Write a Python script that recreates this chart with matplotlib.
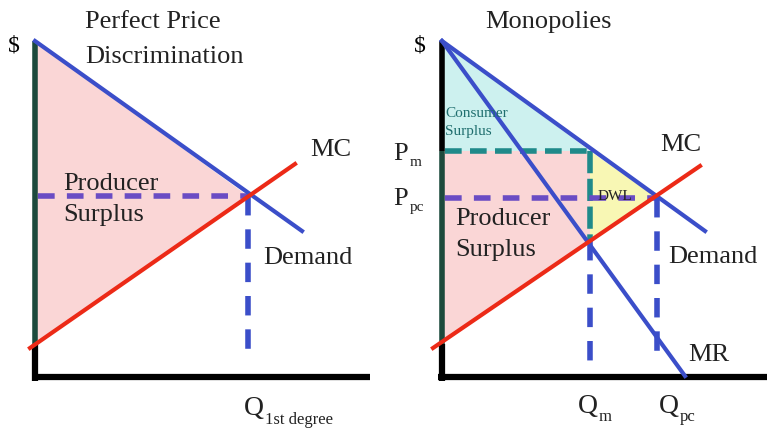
import matplotlib
matplotlib.use("Agg")
import matplotlib.pyplot as plt
from matplotlib.patches import Polygon

# ---- data (pixel-space diagram coordinates, y downwards) ----
# Left panel: perfect price discrimination
L_demand_x = [35, 302]
L_demand_y = [42, 232]
L_mc_x = [30, 295]
L_mc_y = [349, 165]
L_eq = (248, 197)
L_ps_x = [35, 248, 35]
L_ps_y = [42, 197, 345]

# Right panel: monopoly
R_demand_x = [442, 705]
R_demand_y = [42, 232]
R_mr_x = [442, 685]
R_mr_y = [42, 377]
R_mc_x = [433, 700]
R_mc_y = [349, 167]
R_qm, R_pm = 590, 152
R_qpc, R_ppc = 657, 199
R_mc_at_qm = 242
R_cs_x = [442, 590, 442]
R_cs_y = [42, 152, 152]
R_ps_x = [442, 590, 590, 442]
R_ps_y = [152, 152, 242, 345]
R_dwl_x = [590, 657, 590]
R_dwl_y = [152, 199, 242]

BLUE = "#3b4ec9"
RED = "#ec2a17"
PURPLE = "#6a4cc4"
TEAL = "#1f8a8a"
DKGREEN = "#1c4a3c"
PINK = "#fad6d6"
CYAN = "#cdf1ef"
YELLOW = "#f8f7b4"
TXT = "#222222"

fig = plt.figure(figsize=(7.67, 4.31), dpi=100)
ax = fig.add_axes([0, 0, 1, 1])
ax.set_xlim(0, 767)
ax.set_ylim(431, 0)
ax.axis("off")

serif = ["Liberation Serif", "DejaVu Serif"]

# ---------- Left panel ----------
ax.add_patch(Polygon(list(zip(L_ps_x, L_ps_y)), closed=True, fc=PINK, ec="none", zorder=1))
ax.plot([35, 35], [345, 382], color="black", lw=4.5, solid_capstyle="butt", zorder=3)
ax.plot([35, 35], [42, 345], color=DKGREEN, lw=4, solid_capstyle="butt", zorder=3)
ax.plot([33, 370], [378, 378], color="black", lw=4.5, solid_capstyle="butt", zorder=3)
ax.plot([38, L_eq[0]], [L_eq[1], L_eq[1]], color=PURPLE, lw=4, dashes=(3, 2.2), zorder=4)
ax.plot([L_eq[0], L_eq[0]], [L_eq[1], 363], color=BLUE, lw=4, dashes=(3.5, 2.5), zorder=4)
ax.plot(L_demand_x, L_demand_y, color=BLUE, lw=3, zorder=5)
ax.plot(L_mc_x, L_mc_y, color=RED, lw=3, zorder=5)

ax.text(14, 46, "$", fontsize=17, family=serif, ha="center", va="center")
ax.text(85, 22, "Perfect Price", fontsize=19, family=serif, ha="left", va="center", color=TXT)
ax.text(85, 57, "Discrimination", fontsize=19, family=serif, ha="left", va="center", color=TXT)
ax.text(310, 150, "MC", fontsize=19, family=serif, ha="left", va="center", color=TXT)
ax.text(63, 184, "Producer", fontsize=19, family=serif, ha="left", va="center", color=TXT)
ax.text(63, 215, "Surplus", fontsize=19, family=serif, ha="left", va="center", color=TXT)
ax.text(263, 258, "Demand", fontsize=19, family=serif, ha="left", va="center", color=TXT)
ax.text(244, 409, "Q", fontsize=20, family=serif, ha="left", va="center", color=TXT)
ax.text(265, 420, "1st degree", fontsize=12, family=serif, ha="left", va="center", color=TXT)

# ---------- Right panel ----------
ax.add_patch(Polygon(list(zip(R_cs_x, R_cs_y)), closed=True, fc=CYAN, ec="none", zorder=1))
ax.add_patch(Polygon(list(zip(R_ps_x, R_ps_y)), closed=True, fc=PINK, ec="none", zorder=1))
ax.add_patch(Polygon(list(zip(R_dwl_x, R_dwl_y)), closed=True, fc=YELLOW, ec="none", zorder=1))
ax.plot([442, 442], [345, 382], color="black", lw=4.5, solid_capstyle="butt", zorder=3)
ax.plot([442, 442], [42, 152], color="black", lw=4, solid_capstyle="butt", zorder=3)
ax.plot([442, 442], [152, 345], color=DKGREEN, lw=4, solid_capstyle="butt", zorder=3)
ax.plot([438, 767], [378, 378], color="black", lw=4.5, solid_capstyle="butt", zorder=3)
ax.plot([445, R_qm], [R_pm, R_pm], color=TEAL, lw=4, dashes=(3, 1.5), zorder=4)
ax.plot([R_qm, R_qm], [R_pm, R_mc_at_qm], color=TEAL, lw=4, dashes=(4, 1), zorder=4)
ax.plot([R_qm, R_qm], [R_mc_at_qm, 362], color=BLUE, lw=4, dashes=(3.5, 2.5), zorder=4)
ax.plot([445, R_qpc], [R_ppc, R_ppc], color=PURPLE, lw=4, dashes=(3, 2.2), zorder=4)
ax.plot([R_qpc, R_qpc], [R_ppc, 357], color=BLUE, lw=4, dashes=(3.5, 2.5), zorder=4)
ax.plot(R_demand_x, R_demand_y, color=BLUE, lw=3, zorder=5)
ax.plot(R_mr_x, R_mr_y, color=BLUE, lw=3, zorder=5)
ax.plot(R_mc_x, R_mc_y, color=RED, lw=3, zorder=5)

ax.text(420, 46, "$", fontsize=17, family=serif, ha="center", va="center")
ax.text(548, 22, "Monopolies", fontsize=19, family=serif, ha="center", va="center", color=TXT)
ax.text(393, 154, "P", fontsize=19, family=serif, ha="left", va="center", color=TXT)
ax.text(410, 163, "m", fontsize=11, family=serif, ha="left", va="center", color=TXT)
ax.text(393, 199, "P", fontsize=19, family=serif, ha="left", va="center", color=TXT)
ax.text(410, 208, "pc", fontsize=11, family=serif, ha="left", va="center", color=TXT)
ax.text(445, 114, "Consumer", fontsize=11, family=serif, ha="left", va="center", color="#1f6e6e", zorder=6)
ax.text(445, 132, "Surplus", fontsize=11, family=serif, ha="left", va="center", color="#1f6e6e", zorder=6)
ax.text(598, 197, "DWL", fontsize=11, family=serif, ha="left", va="center", color=TXT, zorder=6)
ax.text(660, 145, "MC", fontsize=19, family=serif, ha="left", va="center", color=TXT)
ax.text(455, 219, "Producer", fontsize=19, family=serif, ha="left", va="center", color=TXT, zorder=6)
ax.text(455, 250, "Surplus", fontsize=19, family=serif, ha="left", va="center", color=TXT, zorder=6)
ax.text(668, 257, "Demand", fontsize=19, family=serif, ha="left", va="center", color=TXT)
ax.text(688, 355, "MR", fontsize=19, family=serif, ha="left", va="center", color=TXT)
ax.text(578, 407, "Q", fontsize=20, family=serif, ha="left", va="center", color=TXT)
ax.text(599, 417, "m", fontsize=12, family=serif, ha="left", va="center", color=TXT)
ax.text(659, 407, "Q", fontsize=20, family=serif, ha="left", va="center", color=TXT)
ax.text(680, 417, "pc", fontsize=12, family=serif, ha="left", va="center", color=TXT)

fig.savefig("out.png", dpi=100)
